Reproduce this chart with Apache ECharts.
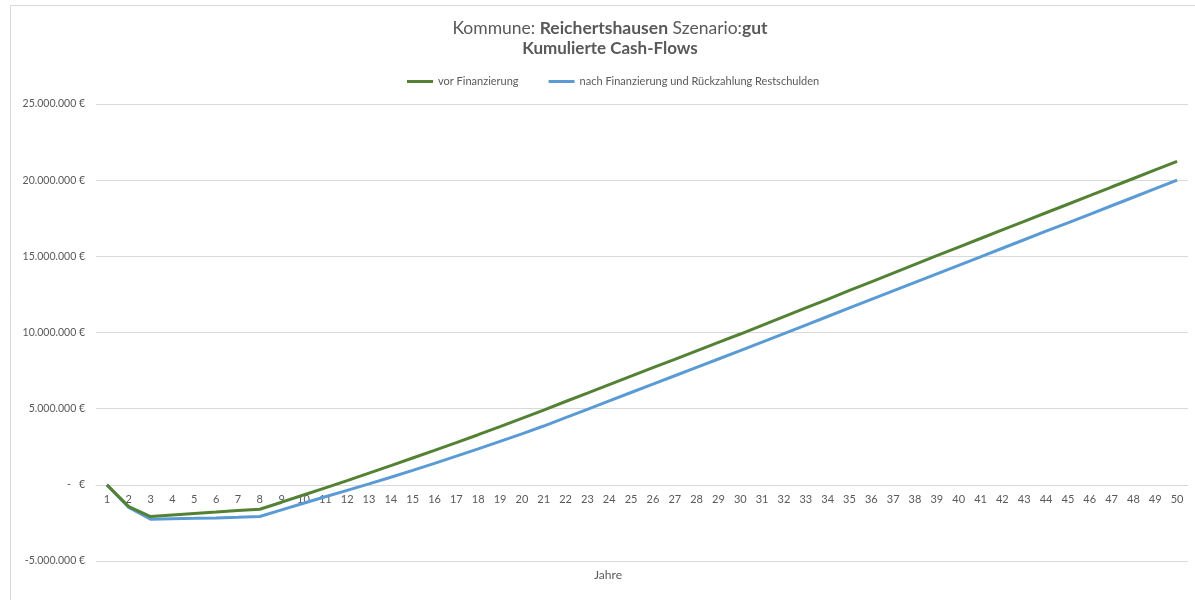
<!DOCTYPE html>
<html lang="de">
<head>
  <meta charset="UTF-8">
  <title>Kumulierte Cash-Flows</title>
  <style>
    html, body { margin: 0; padding: 0; background: #fff; }
    #chart { width: 1195px; height: 600px; }
  </style>
</head>
<body>
  <div id="chart"></div>
  <script src="https://cdn.jsdelivr.net/npm/echarts@6/dist/echarts.min.js"></script>
  <script>
  // Jahre 1..50
  let jahre = []
  for (let i = 1; i <= 50; i++) jahre.push(String(i))

  let seriesNames = ['vor Finanzierung', 'nach Finanzierung und Rückzahlung Restschulden']

  // kumulierte Cash-Flows in Euro
  let vorFinanzierung = [
    0, -1430000, -2080000, -1980000, -1880000, -1790000, -1690000, -1600000, -1140000, -670000,
    -200000, 280000, 770000, 1260000, 1760000, 2260000, 2770000, 3290000, 3820000, 4360000,
    4910000, 5470000, 6020000, 6580000, 7130000, 7690000, 8240000, 8800000, 9350000, 9900000,
    10470000, 11040000, 11610000, 12180000, 12760000, 13330000, 13900000, 14470000, 15040000, 15610000,
    16170000, 16740000, 17300000, 17860000, 18420000, 18980000, 19550000, 20110000, 20670000, 21230000
  ]
  let nachFinanzierung = [
    0, -1490000, -2260000, -2220000, -2200000, -2170000, -2130000, -2080000, -1640000, -1210000,
    -780000, -360000, 60000, 500000, 950000, 1410000, 1880000, 2360000, 2850000, 3350000,
    3860000, 4410000, 4960000, 5510000, 6060000, 6610000, 7160000, 7710000, 8260000, 8810000,
    9370000, 9930000, 10490000, 11050000, 11610000, 12170000, 12730000, 13290000, 13850000, 14410000,
    14970000, 15530000, 16090000, 16650000, 17200000, 17760000, 18320000, 18880000, 19440000, 20000000
  ]

  let grey = '#595959'
  let font = 'Lato, "Open Sans", sans-serif'

  function euro(v) {
    if (v === 0) return '-   €'
    let s = Math.abs(v).toFixed(0).replace(/\B(?=(\d{3})+(?!\d))/g, '.')
    return (v < 0 ? '-' : '') + s + ' €'
  }

  let chart = echarts.init(document.getElementById('chart'))
  chart.setOption({
    animation: false,
    textStyle: { fontFamily: font },
    color: ['#548235', '#5b9bd5'],
    legend: {
      left: 402,
      top: 71,
      itemWidth: 26,
      itemHeight: 3,
      itemGap: 30,
      icon: 'rect',
      textStyle: { color: grey, fontSize: 11, fontFamily: font },
      data: seriesNames
    },
    grid: { left: 96, right: 7, top: 104, bottom: 39 },
    xAxis: {
      type: 'category',
      data: jahre,
      boundaryGap: true,
      // Achse liegt auf der Null-Linie
      offset: -76,
      axisLine: { onZero: false, lineStyle: { color: '#d9d9d9', width: 1 } },
      axisTick: { show: false },
      axisLabel: { color: grey, fontSize: 11, margin: 9, interval: 0 },
      splitLine: { show: false }
    },
    yAxis: {
      type: 'value',
      min: -5000000,
      max: 25000000,
      interval: 5000000,
      axisLine: { show: false },
      axisTick: { show: false },
      axisLabel: { color: grey, fontSize: 10.5, margin: 11, formatter: euro },
      splitLine: { lineStyle: { color: '#d9d9d9', width: 1 } }
    },
    series: [
      {
        name: seriesNames[0],
        type: 'line',
        data: vorFinanzierung,
        showSymbol: false,
        lineStyle: { width: 3 },
        z: 3
      },
      {
        name: seriesNames[1],
        type: 'line',
        data: nachFinanzierung,
        showSymbol: false,
        lineStyle: { width: 3 },
        z: 2
      }
    ],
    graphic: [
      {
        type: 'rect',
        shape: { x: 10.5, y: 5.5, width: 1300, height: 700 },
        style: { fill: 'none', stroke: '#d9d9d9', lineWidth: 1 },
        silent: true
      },
      {
        type: 'text',
        x: 610,
        y: 28,
        style: {
          text: '{n|Kommune: }{b|Reichertshausen}{n| Szenario:}{b|gut}',
          align: 'center',
          verticalAlign: 'middle',
          rich: {
            n: { fontSize: 17.5, fill: grey, fontFamily: font },
            b: { fontSize: 17.5, fill: grey, fontFamily: font, fontWeight: 'bold' }
          }
        }
      },
      {
        type: 'text',
        x: 610,
        y: 49,
        style: {
          text: 'Kumulierte Cash-Flows',
          align: 'center',
          verticalAlign: 'middle',
          fontSize: 17,
          fontWeight: 'bold',
          fill: grey,
          fontFamily: font
        }
      },
      {
        type: 'text',
        x: 608,
        y: 575,
        style: {
          text: 'Jahre',
          align: 'center',
          verticalAlign: 'middle',
          fontSize: 12,
          fill: grey,
          fontFamily: font
        }
      }
    ]
  })
  </script>
</body>
</html>
